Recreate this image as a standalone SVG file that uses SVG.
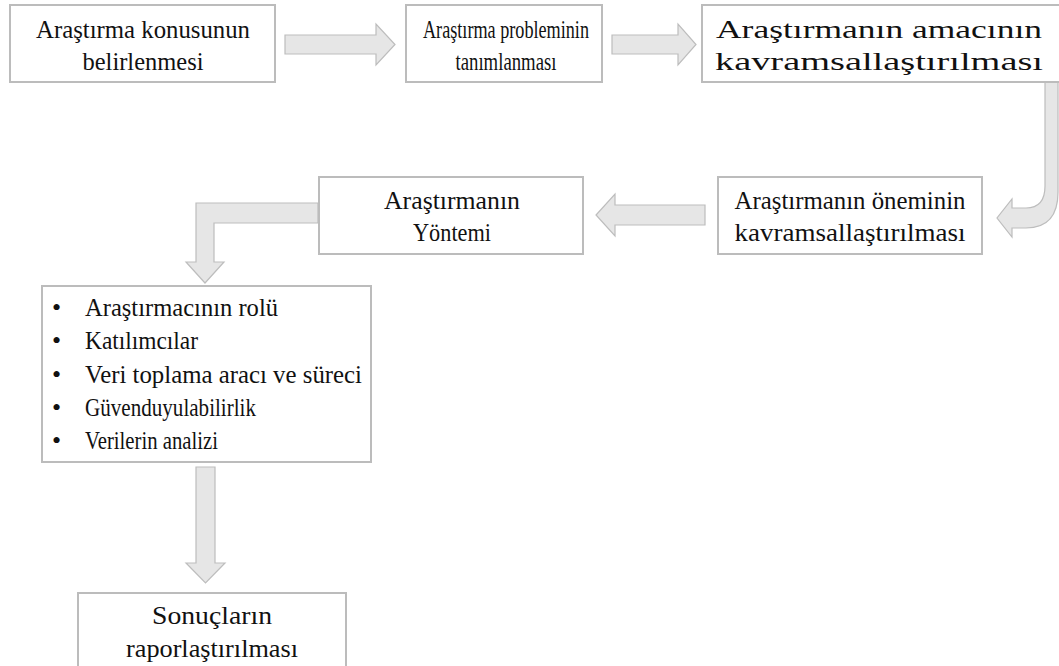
<svg xmlns="http://www.w3.org/2000/svg" width="1059" height="666" viewBox="0 0 1059 666">
<style>
.box{fill:#ffffff;stroke:#bcbcbc;stroke-width:2}
.arr{fill:#e6e6e6;stroke:#bdbdbd;stroke-width:1.2;stroke-linejoin:miter}
.t{font-family:"Liberation Serif","Times New Roman",serif;font-size:26px;fill:#111;text-anchor:middle}
.tl{font-family:"Liberation Serif","Times New Roman",serif;font-size:26px;fill:#111}
</style>
<rect width="1059" height="666" fill="#ffffff"/>
<g id="connectors">
<path class="arr" d="M285,35 L376,35 L376,24 L395,44.5 L376,65 L376,54 L285,54 Z"/>
<path class="arr" d="M612,35 L678,35 L678,24 L696,44.5 L678,65 L678,54 L612,54 Z"/>
<path class="arr" d="M1045,82 L1058,82 L1058,192 Q1058,228 1026,228 L1012,228 L1012,237 L997,218 L1012,199 L1012,208 L1026,208 Q1045,208 1045,186 Z"/>
<path class="arr" d="M705,205 L615,205 L615,194 L596,215 L615,236 L615,225 L705,225 Z"/>
<path class="arr" d="M318,203 L196,203 L196,262 L186,262 L205,283 L224,262 L214,262 L214,223 L318,223 Z"/>
<path class="arr" d="M196,467 L215,467 L215,563 L225,563 L205.5,583 L186,563 L196,563 Z"/>
</g>
<g id="n1">
<rect class="box" x="10" y="5" width="265" height="77"/>
<text class="t" x="143" y="38" textLength="214" lengthAdjust="spacingAndGlyphs">Araştırma konusunun</text>
<text class="t" x="143" y="70" textLength="121" lengthAdjust="spacingAndGlyphs">belirlenmesi</text>
</g>
<g id="n2">
<rect class="box" x="406" y="5" width="196" height="77"/>
<text class="t" x="506" y="38" textLength="166" lengthAdjust="spacingAndGlyphs">Araştırma probleminin</text>
<text class="t" x="506" y="70" textLength="101" lengthAdjust="spacingAndGlyphs">tanımlanması</text>
</g>
<g id="n3">
<rect class="box" x="702" y="5" width="362" height="77"/>
<text class="t" x="879" y="38" textLength="326" lengthAdjust="spacingAndGlyphs">Araştırmanın amacının</text>
<text class="t" x="879" y="70" textLength="328" lengthAdjust="spacingAndGlyphs">kavramsallaştırılması</text>
</g>
<g id="n4">
<rect class="box" x="718" y="177" width="264" height="77"/>
<text class="t" x="850" y="209" textLength="231" lengthAdjust="spacingAndGlyphs">Araştırmanın öneminin</text>
<text class="t" x="850" y="241" textLength="231" lengthAdjust="spacingAndGlyphs">kavramsallaştırılması</text>
</g>
<g id="n5">
<rect class="box" x="319" y="177" width="264" height="77"/>
<text class="t" x="452" y="209" textLength="136" lengthAdjust="spacingAndGlyphs">Araştırmanın</text>
<text class="t" x="452" y="241" textLength="78" lengthAdjust="spacingAndGlyphs">Yöntemi</text>
</g>
<g id="n6">
<rect class="box" x="42" y="286" width="329" height="176"/>
<text class="tl" x="52" y="316">•</text>
<text class="tl" x="85" y="316" textLength="193" lengthAdjust="spacingAndGlyphs">Araştırmacının rolü</text>
<text class="tl" x="52" y="349">•</text>
<text class="tl" x="85" y="349" textLength="113" lengthAdjust="spacingAndGlyphs">Katılımcılar</text>
<text class="tl" x="52" y="383">•</text>
<text class="tl" x="85" y="383" textLength="277" lengthAdjust="spacingAndGlyphs">Veri toplama aracı ve süreci</text>
<text class="tl" x="52" y="416">•</text>
<text class="tl" x="85" y="416" textLength="171" lengthAdjust="spacingAndGlyphs">Güvenduyulabilirlik</text>
<text class="tl" x="52" y="449">•</text>
<text class="tl" x="85" y="449" textLength="133" lengthAdjust="spacingAndGlyphs">Verilerin analizi</text>
</g>
<g id="n7">
<rect class="box" x="78" y="593" width="268" height="85"/>
<text class="t" x="212" y="624" textLength="120" lengthAdjust="spacingAndGlyphs">Sonuçların</text>
<text class="t" x="212" y="657" textLength="172" lengthAdjust="spacingAndGlyphs">raporlaştırılması</text>
</g>
</svg>
